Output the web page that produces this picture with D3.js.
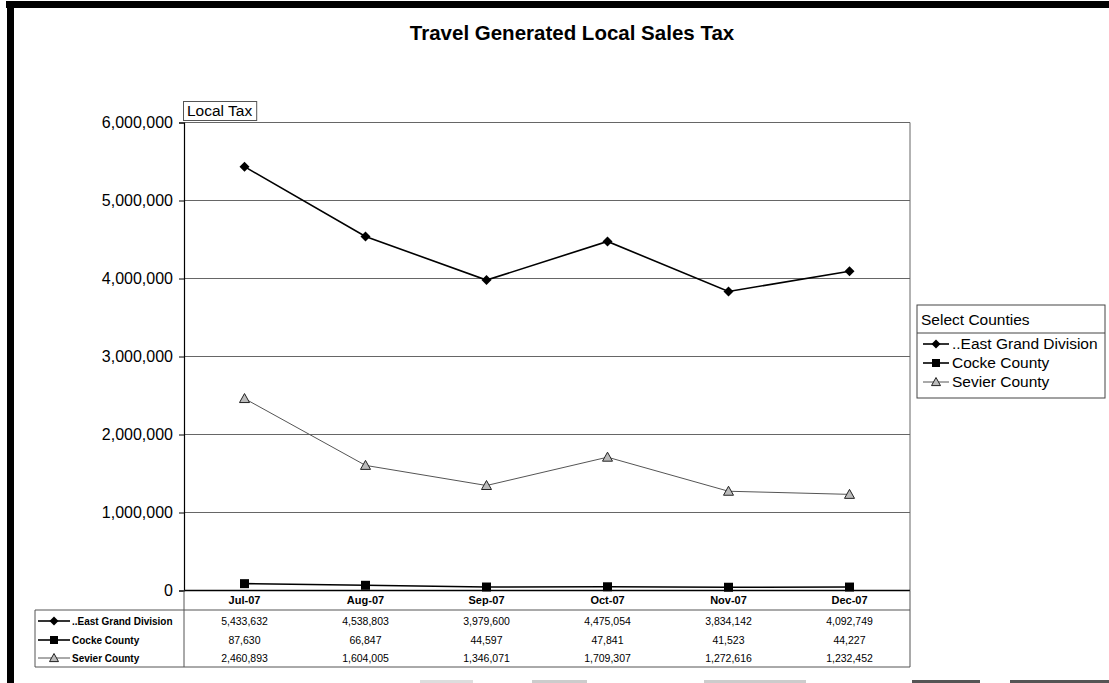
<!DOCTYPE html>
<html>
<head>
<meta charset="utf-8">
<script src="https://cdn.jsdelivr.net/npm/d3@7"></script>
<style>
  html, body { margin: 0; padding: 0; background: #fff; }
  svg { display: block; font-family: "Liberation Sans", Arial, sans-serif; }
</style>
</head>
<body>
<svg id="chart" width="1109" height="683"></svg>
<script>
const categories = ["Jul-07", "Aug-07", "Sep-07", "Oct-07", "Nov-07", "Dec-07"];
const seriesNames = ["..East Grand Division", "Cocke County", "Sevier County"];
const eastGrand = [5433632, 4538803, 3979600, 4475054, 3834142, 4092749];
const cocke = [87630, 66847, 44597, 47841, 41523, 44227];
const sevier = [2460893, 1604005, 1346071, 1709307, 1272616, 1232452];
const yTicks = [0, 1000000, 2000000, 3000000, 4000000, 5000000, 6000000];
const titleText = "Travel Generated Local Sales Tax";
const axisTitle = "Local Tax";
const legendTitle = "Select Counties";

const series = [
  { name: seriesNames[0], values: eastGrand, marker: "diamond", stroke: "#000", width: 1.6, fill: "#000" },
  { name: seriesNames[1], values: cocke, marker: "square", stroke: "#000", width: 1.6, fill: "#000" },
  { name: seriesNames[2], values: sevier, marker: "triangle", stroke: "#555", width: 1, fill: "#bbb" }
];

const svg = d3.select("#chart");
const L = 184, R = 910, T = 122.5, B = 590.5;

// frame (black scan border) and faint scan marks at the bottom
svg.append("rect").attr("x", 6).attr("y", 1).attr("width", 1103).attr("height", 7).attr("fill", "#000");
svg.append("rect").attr("x", 7).attr("y", 1).attr("width", 7).attr("height", 682).attr("fill", "#000");
[[420, 53, "#ddd"], [532, 55, "#ccc"], [704, 102, "#ccc"], [912, 68, "#555"], [1010, 99, "#555"]].forEach(b => {
  svg.append("rect").attr("x", b[0]).attr("y", 680).attr("width", b[1]).attr("height", 3).attr("fill", b[2]);
});

// title
svg.append("text").attr("x", 572).attr("y", 40).attr("text-anchor", "middle")
  .attr("font-size", 20.5).attr("font-weight", "bold").text(titleText);

const x = d3.scaleBand().domain(categories).range([L, R]).padding(0);
const y = d3.scaleLinear().domain([0, 6000000]).range([B, T]);
const cx = c => x(c) + x.bandwidth() / 2;

// gridlines
svg.append("g").selectAll("line").data(yTicks.filter(d => d > 0)).join("line")
  .attr("x1", L).attr("x2", R).attr("y1", d => y(d)).attr("y2", d => y(d))
  .attr("stroke", "#666").attr("stroke-width", 1);

// plot border right
svg.append("line").attr("x1", R).attr("x2", R).attr("y1", T).attr("y2", B).attr("stroke", "#666");

// y axis
const yAxis = d3.axisLeft(y).tickValues(yTicks).tickSize(5).tickPadding(6)
  .tickFormat(d3.format(","));
const gy = svg.append("g").attr("transform", `translate(${L},0)`).call(yAxis);
gy.select(".domain").attr("stroke", "#000").attr("stroke-width", 1.2);
gy.selectAll(".tick line").attr("stroke", "#000");
gy.selectAll(".tick text").attr("font-size", 16).attr("fill", "#000")
  .attr("font-family", "'Liberation Sans', Arial, sans-serif");

// axis title box
const atG = svg.append("g");
const atText = atG.append("text").attr("x", 187).attr("y", 116).attr("font-size", 15.5).text(axisTitle);
const atW = atText.node().getComputedTextLength();
atG.insert("rect", "text").attr("x", 183.5).attr("y", 101.5).attr("width", atW + 8).attr("height", 19)
  .attr("fill", "#fff").attr("stroke", "#555");

// marker path
function markerPath(type, s) {
  const h = s / 2;
  if (type === "diamond") return `M0,${-h}L${h},0L0,${h}L${-h},0Z`;
  if (type === "square") return `M${-h},${-h}H${h}V${h}H${-h}Z`;
  return `M0,${-h}L${h},${h * 0.8}L${-h},${h * 0.8}Z`;
}

const line = d3.line().x((d, i) => cx(categories[i])).y(d => y(d));

series.forEach(s => {
  svg.append("path").datum(s.values).attr("d", line).attr("fill", "none")
    .attr("stroke", s.stroke).attr("stroke-width", s.width);
  svg.append("g").selectAll("path").data(s.values).join("path")
    .attr("transform", (d, i) => `translate(${cx(categories[i])},${y(d)})`)
    .attr("d", markerPath(s.marker, s.marker === "square" ? 9 : 10))
    .attr("fill", s.fill).attr("stroke", s.marker === "triangle" ? "#222" : "none").attr("stroke-width", 1);
});

// x axis line
svg.append("line").attr("x1", L).attr("x2", R).attr("y1", B).attr("y2", B).attr("stroke", "#000").attr("stroke-width", 1.5);

// data table
const tL = 35, tTop = 610, tBot = 667;
const rowY = [621, 640, 658];
svg.append("g").selectAll("text").data(categories).join("text")
  .attr("x", d => cx(d)).attr("y", 604).attr("text-anchor", "middle")
  .attr("font-size", 11).attr("font-weight", "bold").text(d => d);

svg.append("line").attr("x1", tL).attr("x2", R).attr("y1", tTop).attr("y2", tTop).attr("stroke", "#555");
svg.append("line").attr("x1", tL).attr("x2", R).attr("y1", tBot).attr("y2", tBot).attr("stroke", "#555");
svg.append("line").attr("x1", tL).attr("x2", tL).attr("y1", tTop).attr("y2", tBot).attr("stroke", "#555");
svg.append("line").attr("x1", L).attr("x2", L).attr("y1", B).attr("y2", tBot).attr("stroke", "#555");
svg.append("line").attr("x1", R).attr("x2", R).attr("y1", B).attr("y2", tBot).attr("stroke", "#555");

const fmt = d3.format(",");
series.forEach((s, si) => {
  const yy = rowY[si];
  svg.append("line").attr("x1", 38).attr("x2", 70).attr("y1", yy).attr("y2", yy)
    .attr("stroke", s.stroke).attr("stroke-width", s.width);
  svg.append("path").attr("transform", `translate(54,${yy})`)
    .attr("d", markerPath(s.marker, s.marker === "square" ? 8 : 9))
    .attr("fill", s.fill).attr("stroke", s.marker === "triangle" ? "#222" : "none");
  svg.append("text").attr("x", 72).attr("y", yy + 4).attr("font-size", 10).attr("font-weight", "bold").text(s.name);
  svg.append("g").selectAll("text").data(s.values).join("text")
    .attr("x", (d, i) => cx(categories[i])).attr("y", yy + 4)
    .attr("text-anchor", "middle").attr("font-size", 10.5).text(d => fmt(d));
});

// legend box
const lgX = 917, lgY = 305, lgW = 188, sepY = 333, lgBot = 398;
svg.append("rect").attr("x", lgX).attr("y", lgY).attr("width", lgW).attr("height", lgBot - lgY)
  .attr("fill", "#fff").attr("stroke", "#444");
svg.append("line").attr("x1", lgX).attr("x2", lgX + lgW).attr("y1", sepY).attr("y2", sepY).attr("stroke", "#444");
svg.append("text").attr("x", lgX + 4).attr("y", 325).attr("font-size", 15.5).text(legendTitle);
const lgRows = [344, 363, 382];
series.forEach((s, si) => {
  const yy = lgRows[si];
  svg.append("line").attr("x1", lgX + 6).attr("x2", lgX + 32).attr("y1", yy).attr("y2", yy)
    .attr("stroke", s.stroke).attr("stroke-width", s.width);
  svg.append("path").attr("transform", `translate(${lgX + 19},${yy})`)
    .attr("d", markerPath(s.marker, s.marker === "square" ? 8 : 9))
    .attr("fill", s.fill).attr("stroke", s.marker === "triangle" ? "#222" : "none");
  svg.append("text").attr("x", lgX + 35).attr("y", yy + 5).attr("font-size", 15.5).text(s.name);
});
</script>
</body>
</html>
